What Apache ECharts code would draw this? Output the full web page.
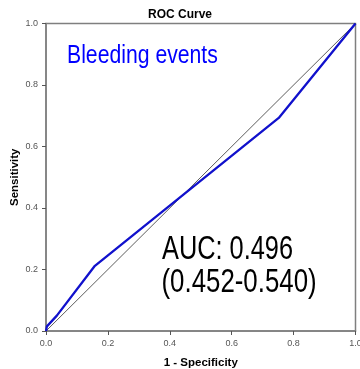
<!DOCTYPE html>
<html>
<head>
<meta charset="utf-8">
<script src="https://cdn.jsdelivr.net/npm/echarts@6/dist/echarts.min.js"></script>
<style>html,body{margin:0;padding:0;background:#fff}#c{width:360px;height:369px}</style>
</head>
<body>
<div id="c"></div>
<script>
const fpr = [0, 0.003, 0.035, 0.158, 0.752, 1];
const tpr = [0, 0.015, 0.05, 0.212, 0.693, 1];
const refX = [0, 1];
const refY = [0, 1];
const titleText = 'ROC Curve';
const xName = '1 - Specificity';
const yName = 'Sensitivity';
const label1 = 'Bleeding events';
const aucLine1 = 'AUC: 0.496';
const aucLine2 = '(0.452-0.540)';

const chart = echarts.init(document.getElementById('c'), null, {renderer: 'canvas'});
const sans = '"Liberation Sans", Arial, sans-serif';
const axisCommon = {
  type: 'value', min: 0, max: 1, interval: 0.2,
  axisLine: {show: true, lineStyle: {color: '#7f7f7f', width: 1.5}},
  axisTick: {show: true, length: 4, lineStyle: {color: '#555', width: 1}},
  splitLine: {show: false},
  axisLabel: {color: '#555', fontSize: 9, fontFamily: sans, formatter: v => v.toFixed(1)},
  nameLocation: 'middle',
  nameMoveOverlap: false,
  nameTextStyle: {color: '#000', fontWeight: 'bold', fontSize: 11.5, fontFamily: sans}
};
chart.setOption({
  animation: false,
  title: {text: titleText, left: 'center', top: 4, textStyle: {fontSize: 12, fontWeight: 'bold', color: '#000', fontFamily: sans}},
  grid: {left: 46, right: 4.5, top: 23.5, bottom: 38, outerBoundsMode: 'none', containLabel: false, show: true, borderColor: '#7f7f7f', borderWidth: 1.5, backgroundColor: '#fff'},
  xAxis: Object.assign({}, axisCommon, {name: xName, nameGap: 26}),
  yAxis: Object.assign({}, axisCommon, {name: yName, nameGap: 25}),
  series: [
    {type: 'line', data: refX.map((x, i) => [x, refY[i]]), symbol: 'none', lineStyle: {color: '#333', width: 0.8}, z: 2},
    {type: 'line', data: fpr.map((x, i) => [x, tpr[i]]), symbol: 'none', lineStyle: {color: '#1111cc', width: 2.3}, z: 3}
  ],
  graphic: [
    {type: 'text', x: 67, y: 56, scaleX: 0.8, style: {text: label1, fill: '#0000ff', fontSize: 26.5, fontFamily: sans, align: 'left', verticalAlign: 'middle'}},
    {type: 'text', x: 162, y: 250.5, scaleX: 0.78, style: {text: aucLine1, fill: '#000', fontSize: 32.5, fontFamily: sans, align: 'left', verticalAlign: 'middle'}},
    {type: 'text', x: 161.5, y: 283, scaleX: 0.795, style: {text: aucLine2, fill: '#000', fontSize: 32.5, fontFamily: sans, align: 'left', verticalAlign: 'middle'}}
  ]
});
</script>
</body>
</html>
